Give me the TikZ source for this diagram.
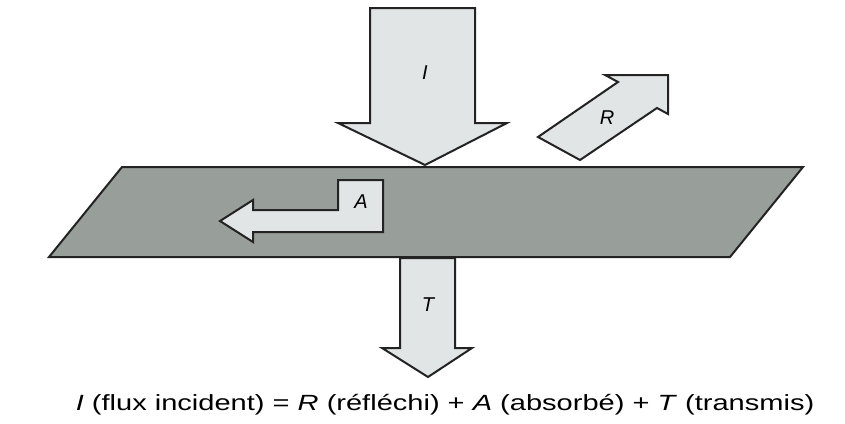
\documentclass[tikz,border=0pt]{standalone}
\usepackage{fontspec}
\setmainfont{Liberation Sans}
\usetikzlibrary{positioning}
\definecolor{plate}{RGB}{152,158,154}
\definecolor{beam}{RGB}{226,229,229}
\definecolor{edge}{RGB}{35,35,35}

\begin{document}
\begin{tikzpicture}[x=1pt,y=-1pt,
    flux/.style={draw=edge,fill=beam,line width=2pt,line join=miter},
    tag/.style={font=\fontsize{20}{24}\selectfont\itshape}]
  \useasboundingbox (0,0) rectangle (845,423);
  % the plate
  \draw[draw=edge,fill=plate,line width=2pt] (122,167) -- (803,167) -- (730,257) -- (49,257) -- cycle;
  % incident
  \draw[flux] (370,8) -- (475,8) -- (475,123) -- (507,123) -- (425,165)
    -- (338,123) -- (370,123) -- cycle;
  \node[tag] (inc) at (425,73) {I};
  % reflected
  \draw[flux] (538,137) -- (618,82) -- (605,75) -- (668,75) -- (668,114)
    -- (657,108) -- (580,160) -- cycle;
  \node[tag] (refl) at (607,118) {R};
  % absorbed
  \draw[flux] (338,180) -- (383,180) -- (383,232) -- (253,232) -- (253,242)
    -- (220,221) -- (253,200) -- (253,210) -- (338,210) -- cycle;
  \node[tag] (abs) at (361,202) {A};
  % transmitted
  \draw[flux] (400,258) -- (455,258) -- (455,348) -- (472,348) -- (428,377)
    -- (382,348) -- (400,348) -- cycle;
  \node[tag] (trans) at (428,305) {T};
  % balance
  \node[font=\fontsize{22}{26}\selectfont] (eq) at (445,405)
    {\scalebox{1.32}[1]{\textit{I} (flux incident) = \textit{R} (réfléchi) + \textit{A} (absorbé) + \textit{T} (transmis)}};
\end{tikzpicture}
\end{document}
